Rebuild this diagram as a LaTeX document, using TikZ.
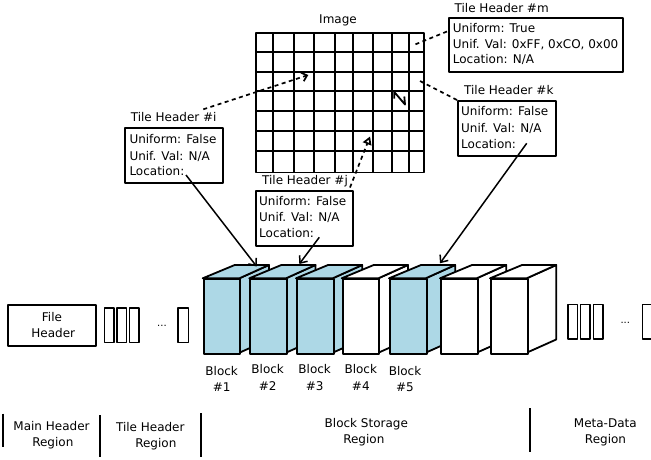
\documentclass[tikz,border=0pt]{standalone}
\usepackage{fontspec}
\setmainfont{DejaVu Sans}
\usetikzlibrary{arrows.meta,calc}
\definecolor{blockblue}{RGB}{173,216,230}
\begin{document}
\begin{tikzpicture}[x=1pt,y=-1pt,line join=round,
  txt/.style={font=\fontsize{12}{16}\selectfont,inner sep=0pt,anchor=base},
  txtl/.style={font=\fontsize{12}{16}\selectfont,inner sep=0pt,anchor=base west},
  dotstxt/.style={font=\fontsize{10}{12}\selectfont,inner sep=0pt,anchor=base},
  hdrbox/.style={draw,line width=2pt,inner sep=0pt,anchor=north west},
  blkface/.style={draw,line width=1.8pt},
  gridln/.style={line width=1.8pt},
  dashln/.style={line width=1.7pt,dash pattern=on 4pt off 3.5pt},
  sepln/.style={line width=1.8pt},
  smallrect/.style={draw,line width=1.6pt,inner sep=0pt,anchor=north west},
  conn/.style={line width=1.5pt,-{Straight Barb[length=6pt,width=10pt]}}
]
\useasboundingbox (0,0) rectangle (651,459);

% ---------- Image grid ----------
\node[txt] (imglbl) at (338,23.8) {Image};
\foreach \gx in {273.3,294,314.3,335,353.3,373.3,391.7,409.3}
  \draw[gridln] (\gx,32.3) -- (\gx,171.5);
\foreach \gy in {52.3,71.7,91,111,131,151}
  \draw[gridln] (255,\gy) -- (422.7,\gy);
\node[draw,line width=1.8pt,inner sep=0pt,anchor=north west,minimum width=167.7pt,minimum height=139.2pt] (img) at (255,32.3) {};

% ---------- Tile headers ----------
\node[txt] (lbli) at (173.7,121.5) {Tile Header \#i};
\node[hdrbox,minimum width=98pt,minimum height=54.4pt] (bi) at (124.3,127.3) {};
\node[txtl] (i1) at (129.3,143.8) {Uniform: False};
\node[txtl] (i2) at (129.3,160) {Unif. Val: N/A};
\node[txtl] (i3) at (129.3,175.5) {Location:};

\node[txt] (lblj) at (305,184.8) {Tile Header \#j};
\node[hdrbox,minimum width=97.3pt,minimum height=55pt] (bj) at (255,190) {};
\node[txtl] (j1) at (259,205.5) {Uniform: False};
\node[txtl] (j2) at (259,221.8) {Unif. Val: N/A};
\node[txtl] (j3) at (259,237.8) {Location:};

\node[txt] (lblm) at (501.7,12) {Tile Header \#m};
\node[hdrbox,minimum width=173.4pt,minimum height=54pt] (bm) at (448.3,16.7) {};
\node[txtl] (m1) at (452.7,32) {Uniform: True};
\node[txtl] (m2) at (452.7,48) {Unif. Val: 0xFF, 0xCO, 0x00};
\node[txtl] (m3) at (452.7,63.8) {Location: N/A};

\node[txt] (lblk) at (508.8,94.8) {Tile Header \#k};
\node[hdrbox,minimum width=97.7pt,minimum height=55pt] (bk) at (457.3,100) {};
\node[txtl] (k1) at (461,115.5) {Uniform: False};
\node[txtl] (k2) at (461,132) {Unif. Val: N/A};
\node[txtl] (k3) at (461,148) {Location:};

% ---------- dashed links into the image ----------
\coordinate (di0) at (203.3,109.3);
\coordinate (di1) at (308.3,75);
\draw[dashln,-{Straight Barb[length=5pt,width=9pt]}] (di0) -- (di1);
\coordinate (dj0) at (350,187.5);
\coordinate (dj1) at (370,136.5);
\draw[dashln,-{Triangle[open,length=8pt,width=9pt]}] (dj0) -- (dj1);
\coordinate (dm0) at (447,31.5);
\coordinate (dm1) at (415,44.5);
\draw[dashln] (dm0) -- (dm1);
\coordinate (dk0) at (457,100);
\coordinate (dk1) at (418,80);
\draw[dashln] (dk0) -- (dk1);
\draw[line width=1.8pt] (394.3,98.5) -- (394.3,92) -- (405,104.5) -- (404.3,96.5);

% ---------- blocks ----------
\foreach \bx/\bc [count=\bn] in {202.7/blockblue,249.3/blockblue,296/blockblue,341.7/white,389/blockblue,440/white,490/white} {
  \filldraw[blkface,fill=\bc] (\bx+36.7,278.3) -- (\bx+66.2,265) -- (\bx+66.2,339.5) -- (\bx+36.7,352.7) -- cycle;
  \filldraw[blkface,fill=\bc] (\bx,278.3) -- (\bx+32,265) -- (\bx+66.2,265) -- (\bx+36.7,278.3) -- cycle;
  \node[blkface,fill=\bc,inner sep=0pt,anchor=north west,minimum width=36.7pt,minimum height=74.4pt] (blk\bn) at (\bx,278.3) {};
}

\node[txt] (bl1a) at (221.7,375.5) {Block};
\node[txt] (bl1b) at (221.7,391.4) {\#1};
\node[txt] (bl2a) at (267.7,373.8) {Block};
\node[txt] (bl2b) at (267.7,390.4) {\#2};
\node[txt] (bl3a) at (314.7,373.8) {Block};
\node[txt] (bl3b) at (314.7,390.4) {\#3};
\node[txt] (bl4a) at (360.8,373.8) {Block};
\node[txt] (bl4b) at (360.8,390.4) {\#4};
\node[txt] (bl5a) at (405,375.5) {Block};
\node[txt] (bl5b) at (405,391.4) {\#5};

% ---------- location arrows ----------
\coordinate (li) at (186,175);
\coordinate (lj) at (319.3,237.3);
\coordinate (lk) at (526.7,143.3);
\coordinate (ti) at (256.7,266.5);
\coordinate (tj) at (299.3,264);
\coordinate (tk) at (440,263.3);
\draw[conn] (li) -- (ti);
\draw[conn] (lj) -- (tj);
\draw[conn] (lk) -- (tk);

% ---------- file header and small tile-header rectangles ----------
\node[hdrbox,minimum width=88.5pt,minimum height=40.5pt] (fh) at (6.5,304.3) {};
\node[txt] (fh1) at (52,321.5) {File};
\node[txt] (fh2) at (53.3,337) {Header};

\node[smallrect,minimum width=9.5pt,minimum height=34.5pt] (r1) at (103.7,307) {};
\node[smallrect,minimum width=9.5pt,minimum height=34.5pt] (r2) at (116.3,307) {};
\node[smallrect,minimum width=9.5pt,minimum height=34.5pt] (r3) at (128.6,307) {};
\node[dotstxt] (dl) at (162,326.5) {...};
\node[smallrect,minimum width=10.5pt,minimum height=34.5pt] (r4) at (177.3,307) {};

\node[smallrect,minimum width=9.5pt,minimum height=34.5pt] (r5) at (567,303.6) {};
\node[smallrect,minimum width=9.5pt,minimum height=34.5pt] (r6) at (579.6,303.6) {};
\node[smallrect,minimum width=9.5pt,minimum height=34.5pt] (r7) at (592.6,303.6) {};
\node[dotstxt] (dr) at (625.3,323) {...};
\node[smallrect,minimum width=10.5pt,minimum height=34.5pt] (r8) at (641.5,303.6) {};

% ---------- region separators and labels ----------
\coordinate (s1a) at (2.7,413.5);  \coordinate (s1b) at (2.7,447);
\coordinate (s2a) at (100,415);    \coordinate (s2b) at (100,456.7);
\coordinate (s3a) at (200.7,413.3);\coordinate (s3b) at (200.7,456.7);
\coordinate (s4a) at (530,408.3);  \coordinate (s4b) at (530,451.7);
\draw[sepln] (s1a) -- (s1b);
\draw[sepln] (s2a) -- (s2b);
\draw[sepln] (s3a) -- (s3b);
\draw[sepln] (s4a) -- (s4b);

\node[txt] (rg1a) at (51.5,430.5) {Main Header};
\node[txt] (rg1b) at (52.8,446.4) {Region};
\node[txt] (rg2a) at (150.3,431.5) {Tile Header};
\node[txt] (rg2b) at (155.8,447) {Region};
\node[txt] (rg3a) at (366.3,427) {Block Storage};
\node[txt] (rg3b) at (363.8,443.8) {Region};
\node[txt] (rg4a) at (605.3,427.8) {Meta-Data};
\node[txt] (rg4b) at (605.5,443.8) {Region};
\end{tikzpicture}
\end{document}
